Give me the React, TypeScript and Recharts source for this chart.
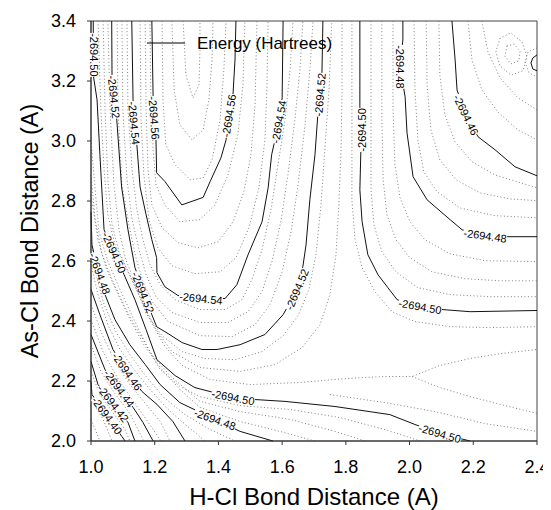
import React from "react";
import { ComposedChart, Line, Scatter, XAxis, YAxis, ReferenceArea, Legend, Label } from "recharts";

const FONT = "'Liberation Sans', Arial, Helvetica, sans-serif";

const xTicks = [1.0, 1.2, 1.4, 1.6, 1.8, 2.0, 2.2, 2.4];
const yTicks = [2.0, 2.2, 2.4, 2.6, 2.8, 3.0, 3.2, 3.4];

// solid (labelled) contours, [H-Cl, As-Cl]
const c40 = [[1.0, 2.198], [1.003, 2.155], [1.05, 2.085], [1.097, 2.015], [1.107, 2.0]];
const c42 = [[1.0, 2.265], [1.022, 2.188], [1.069, 2.125], [1.116, 2.062], [1.138, 2.0]];
const c44 = [[1.0, 2.355], [1.044, 2.238], [1.088, 2.175], [1.132, 2.112], [1.163, 2.062], [1.195, 2.0]];
const c46low = [[1.0, 2.505], [1.028, 2.421], [1.069, 2.305], [1.113, 2.232], [1.16, 2.165], [1.207, 2.122], [1.257, 2.065], [1.295, 2.0]];
const c48low = [[1.0, 2.764], [1.003, 2.654], [1.025, 2.554], [1.044, 2.488], [1.075, 2.405], [1.122, 2.321], [1.17, 2.255], [1.217, 2.188], [1.279, 2.128], [1.389, 2.072], [1.468, 2.032], [1.571, 2.0]];
const c50low = [[1.007, 3.4], [1.008, 3.214], [1.019, 3.137], [1.028, 2.954], [1.041, 2.704], [1.104, 2.554], [1.138, 2.471], [1.173, 2.371], [1.207, 2.271], [1.264, 2.218], [1.326, 2.178], [1.446, 2.145], [1.518, 2.138], [1.609, 2.132], [1.766, 2.115], [1.938, 2.088], [2.017, 2.055], [2.095, 2.025], [2.19, 2.0]];
const c50mid = [[1.844, 3.4], [1.844, 3.11], [1.851, 3.037], [1.847, 2.964], [1.844, 2.837], [1.851, 2.731], [1.869, 2.621], [1.901, 2.554], [1.932, 2.511], [1.961, 2.471], [2.033, 2.448], [2.105, 2.438], [2.19, 2.431], [2.4, 2.435]];
const c52 = [[1.065, 3.4], [1.066, 3.214], [1.081, 3.07], [1.096, 2.847], [1.116, 2.704], [1.138, 2.578], [1.191, 2.421], [1.206, 2.381], [1.242, 2.358], [1.286, 2.328], [1.348, 2.305], [1.396, 2.305], [1.468, 2.321], [1.546, 2.355], [1.603, 2.421], [1.647, 2.505], [1.665, 2.581], [1.675, 2.654], [1.687, 2.804], [1.703, 2.954], [1.712, 3.087], [1.719, 3.154], [1.725, 3.23], [1.728, 3.4]];
const c54 = [[1.128, 3.4], [1.132, 3.137], [1.144, 2.987], [1.154, 2.847], [1.173, 2.754], [1.191, 2.671], [1.206, 2.611], [1.207, 2.561], [1.232, 2.514], [1.273, 2.485], [1.345, 2.475], [1.421, 2.475], [1.458, 2.521], [1.493, 2.621], [1.537, 2.731], [1.556, 2.844], [1.567, 2.954], [1.59, 3.064], [1.6, 3.144], [1.603, 3.4]];
const c56 = [[1.191, 3.4], [1.195, 3.147], [1.204, 3.004], [1.206, 2.894], [1.232, 2.865], [1.285, 2.787], [1.352, 2.812], [1.374, 2.865], [1.408, 2.944], [1.424, 3.004], [1.446, 3.16], [1.452, 3.27], [1.455, 3.4]];
const c48top = [[1.979, 3.4], [1.979, 3.337], [1.97, 3.247], [1.986, 3.147], [1.992, 3.027], [2.011, 2.881], [2.055, 2.804], [2.127, 2.738], [2.165, 2.704], [2.237, 2.684], [2.309, 2.681], [2.4, 2.681]];
const c46top = [[2.133, 3.4], [2.143, 3.27], [2.149, 3.17], [2.177, 3.087], [2.215, 3.014], [2.268, 2.971], [2.331, 2.914], [2.4, 2.884]];
const c44corner = [[2.4, 3.287], [2.387, 3.277], [2.381, 3.26], [2.387, 3.24], [2.4, 3.234]];

// dotted (intermediate) contours
const v1 = [[1.223, 3.4], [1.226, 3.137], [1.235, 2.987], [1.264, 2.921], [1.311, 2.871], [1.352, 2.877], [1.38, 2.937], [1.405, 3.07], [1.417, 3.237], [1.424, 3.4]];
const v2 = [[1.254, 3.4], [1.261, 3.17], [1.279, 3.054], [1.317, 3.004], [1.352, 3.037], [1.37, 3.137], [1.38, 3.27], [1.383, 3.4]];
const v3 = [[1.289, 3.4], [1.298, 3.22], [1.32, 3.144], [1.339, 3.187], [1.342, 3.303], [1.342, 3.4]];
const s1 = [[1.185, 3.4], [1.188, 3.137], [1.195, 2.971], [1.204, 2.854], [1.232, 2.787], [1.279, 2.731], [1.342, 2.738], [1.389, 2.787], [1.43, 2.887], [1.461, 3.021], [1.477, 3.187], [1.483, 3.4]];
const s2 = [[1.17, 3.4], [1.173, 3.104], [1.179, 2.904], [1.191, 2.787], [1.223, 2.711], [1.273, 2.661], [1.336, 2.644], [1.399, 2.664], [1.446, 2.731], [1.48, 2.831], [1.502, 2.954], [1.515, 3.12], [1.521, 3.4]];
const s3 = [[1.154, 3.4], [1.157, 3.07], [1.166, 2.887], [1.182, 2.738], [1.21, 2.644], [1.254, 2.584], [1.326, 2.558], [1.405, 2.564], [1.455, 2.611], [1.496, 2.711], [1.527, 2.844], [1.546, 3.004], [1.552, 3.17], [1.556, 3.4]];
const t1 = [[1.113, 3.4], [1.116, 3.104], [1.129, 2.904], [1.144, 2.771], [1.163, 2.671], [1.185, 2.588], [1.217, 2.521], [1.264, 2.471], [1.342, 2.438], [1.421, 2.438], [1.474, 2.471], [1.505, 2.538], [1.537, 2.638], [1.565, 2.771], [1.587, 2.921], [1.609, 3.07], [1.625, 3.237], [1.634, 3.4]];
const t2 = [[1.097, 3.4], [1.1, 3.104], [1.113, 2.871], [1.129, 2.738], [1.151, 2.638], [1.173, 2.554], [1.204, 2.481], [1.254, 2.428], [1.342, 2.395], [1.43, 2.395], [1.493, 2.431], [1.537, 2.498], [1.568, 2.598], [1.596, 2.731], [1.618, 2.887], [1.64, 3.07], [1.656, 3.237], [1.665, 3.4]];
const t3 = [[1.082, 3.4], [1.085, 3.104], [1.097, 2.854], [1.119, 2.721], [1.141, 2.611], [1.163, 2.531], [1.195, 2.461], [1.242, 2.398], [1.342, 2.351], [1.443, 2.348], [1.515, 2.388], [1.562, 2.455], [1.6, 2.564], [1.628, 2.698], [1.65, 2.854], [1.672, 3.054], [1.687, 3.237], [1.697, 3.4]];
const w1 = [[1.053, 3.4], [1.06, 3.104], [1.072, 2.854], [1.088, 2.704], [1.107, 2.611], [1.141, 2.518], [1.173, 2.425], [1.223, 2.351], [1.286, 2.298], [1.358, 2.275], [1.452, 2.271], [1.537, 2.298], [1.603, 2.351], [1.65, 2.418], [1.684, 2.505], [1.706, 2.621], [1.722, 2.787], [1.734, 2.971], [1.747, 3.17], [1.756, 3.4]];
const w2 = [[1.038, 3.4], [1.044, 3.104], [1.053, 2.871], [1.066, 2.721], [1.088, 2.631], [1.126, 2.544], [1.163, 2.461], [1.204, 2.371], [1.254, 2.298], [1.342, 2.245], [1.468, 2.232], [1.578, 2.255], [1.662, 2.311], [1.719, 2.388], [1.75, 2.488], [1.769, 2.621], [1.778, 2.787], [1.785, 2.971], [1.788, 3.17], [1.788, 3.4]];
const w3 = [[1.022, 3.4], [1.031, 3.104], [1.041, 2.904], [1.053, 2.754], [1.075, 2.654], [1.113, 2.571], [1.151, 2.485], [1.188, 2.398], [1.232, 2.315], [1.286, 2.252], [1.374, 2.205], [1.499, 2.188], [1.656, 2.195], [1.797, 2.208], [1.923, 2.215], [2.008, 2.215], [2.095, 2.252], [2.19, 2.275], [2.284, 2.291], [2.4, 2.305]];
const g1 = [[2.008, 2.215], [2.095, 2.178], [2.19, 2.148], [2.284, 2.122], [2.4, 2.092]];
const r1 = [[1.819, 3.4], [1.819, 3.07], [1.819, 2.804], [1.829, 2.671], [1.851, 2.578], [1.891, 2.498], [1.945, 2.431], [2.017, 2.398], [2.127, 2.381], [2.252, 2.378], [2.4, 2.381]];
const z1 = [[1.75, 2.155], [1.923, 2.128], [2.08, 2.098], [2.237, 2.058], [2.4, 2.032]];
const x1 = [[1.0, 3.004], [1.013, 2.837], [1.025, 2.698], [1.053, 2.598], [1.091, 2.505], [1.132, 2.411], [1.173, 2.321], [1.217, 2.238], [1.279, 2.182], [1.342, 2.148], [1.468, 2.118], [1.625, 2.105], [1.782, 2.078], [1.923, 2.038], [2.033, 2.0]];
const x2 = [[1.0, 2.887], [1.013, 2.738], [1.035, 2.621], [1.066, 2.538], [1.107, 2.445], [1.148, 2.365], [1.191, 2.288], [1.248, 2.218], [1.342, 2.132], [1.468, 2.098], [1.625, 2.072], [1.766, 2.032], [1.86, 2.0]];
const x3 = [[1.0, 2.821], [1.022, 2.671], [1.047, 2.578], [1.085, 2.488], [1.126, 2.398], [1.166, 2.321], [1.217, 2.245], [1.279, 2.172], [1.342, 2.112], [1.468, 2.065], [1.593, 2.032], [1.703, 2.0]];
const x4 = [[1.0, 2.671], [1.016, 2.554], [1.041, 2.455], [1.078, 2.365], [1.122, 2.288], [1.173, 2.215], [1.229, 2.145], [1.295, 2.088], [1.374, 2.038], [1.452, 2.0]];
const x5 = [[1.0, 2.588], [1.022, 2.488], [1.053, 2.388], [1.091, 2.305], [1.135, 2.238], [1.185, 2.172], [1.242, 2.105], [1.304, 2.048], [1.358, 2.0]];
const x6 = [[1.0, 2.455], [1.035, 2.355], [1.075, 2.265], [1.122, 2.188], [1.173, 2.122], [1.217, 2.065], [1.248, 2.0]];
const x7 = [[1.0, 2.405], [1.038, 2.298], [1.082, 2.212], [1.129, 2.138], [1.173, 2.072], [1.22, 2.0]];
const x8 = [[1.0, 2.321], [1.031, 2.232], [1.075, 2.158], [1.122, 2.092], [1.166, 2.0]];
const x9 = [[1.0, 2.232], [1.028, 2.155], [1.069, 2.095], [1.107, 2.038], [1.122, 2.0]];
const x10 = [[1.0, 2.138], [1.038, 2.072], [1.066, 2.0]];
const x11 = [[1.0, 2.072], [1.028, 2.0]];
const y1 = [[1.879, 3.4], [1.879, 3.07], [1.879, 2.837], [1.888, 2.721], [1.913, 2.631], [1.957, 2.564], [2.026, 2.511], [2.127, 2.488], [2.252, 2.481], [2.4, 2.481]];
const y2 = [[1.913, 3.4], [1.913, 3.07], [1.917, 2.871], [1.929, 2.754], [1.957, 2.671], [2.001, 2.611], [2.07, 2.564], [2.174, 2.541], [2.284, 2.534], [2.4, 2.534]];
const y3 = [[1.948, 3.4], [1.948, 3.104], [1.954, 2.921], [1.97, 2.811], [2.001, 2.731], [2.048, 2.671], [2.127, 2.624], [2.237, 2.601], [2.4, 2.598]];
const y4 = [[2.014, 3.4], [2.017, 3.17], [2.026, 3.004], [2.045, 2.897], [2.086, 2.831], [2.158, 2.777], [2.268, 2.751], [2.4, 2.744]];
const y5 = [[2.052, 3.4], [2.055, 3.187], [2.067, 3.037], [2.095, 2.937], [2.146, 2.871], [2.221, 2.827], [2.315, 2.807], [2.4, 2.801]];
const y6 = [[2.092, 3.4], [2.095, 3.22], [2.111, 3.087], [2.143, 2.997], [2.196, 2.931], [2.268, 2.887], [2.347, 2.861], [2.4, 2.844]];
const y7 = [[2.183, 3.4], [2.196, 3.27], [2.227, 3.17], [2.277, 3.097], [2.34, 3.037], [2.4, 3.004]];
const y8 = [[2.227, 3.4], [2.246, 3.297], [2.284, 3.21], [2.34, 3.144], [2.4, 3.104]];
const loop1 = [[2.284, 3.343], [2.271, 3.297], [2.284, 3.25], [2.318, 3.22], [2.356, 3.234], [2.369, 3.28], [2.353, 3.33], [2.318, 3.36], [2.284, 3.343]];
const loop2 = [[2.306, 3.317], [2.299, 3.283], [2.318, 3.257], [2.343, 3.267], [2.347, 3.3], [2.328, 3.323], [2.306, 3.317]];
const arcCorner = [[2.4, 3.31], [2.372, 3.297], [2.362, 3.264], [2.375, 3.227], [2.4, 3.214]];

const contourLabels = [
  { text: "-2694.50", x: 1.008, y: 3.287, angle: 90 },
  { text: "-2694.52", x: 1.072, y: 3.147, angle: 84 },
  { text: "-2694.54", x: 1.135, y: 3.06, angle: 85 },
  { text: "-2694.56", x: 1.198, y: 3.077, angle: 86 },
  { text: "-2694.56", x: 1.433, y: 3.084, angle: -81 },
  { text: "-2694.54", x: 1.59, y: 3.064, angle: -80 },
  { text: "-2694.52", x: 1.719, y: 3.154, angle: -85 },
  { text: "-2694.50", x: 1.851, y: 3.037, angle: -90 },
  { text: "-2694.48", x: 1.97, y: 3.247, angle: 90 },
  { text: "-2694.46", x: 2.177, y: 3.087, angle: 64 },
  { text: "-2694.48", x: 2.237, y: 2.684, angle: 8 },
  { text: "-2694.50", x: 2.033, y: 2.448, angle: 10 },
  { text: "-2694.54", x: 1.345, y: 2.475, angle: 6 },
  { text: "-2694.52", x: 1.647, y: 2.505, angle: -67 },
  { text: "-2694.52", x: 1.163, y: 2.495, angle: 68 },
  { text: "-2694.50", x: 1.072, y: 2.628, angle: 66 },
  { text: "-2694.48", x: 1.027, y: 2.558, angle: 70 },
  { text: "-2694.46", x: 1.113, y: 2.232, angle: 55 },
  { text: "-2694.44", x: 1.088, y: 2.175, angle: 54 },
  { text: "-2694.42", x: 1.069, y: 2.125, angle: 52 },
  { text: "-2694.40", x: 1.05, y: 2.085, angle: 54 },
  { text: "-2694.50", x: 1.446, y: 2.145, angle: 11 },
  { text: "-2694.48", x: 1.389, y: 2.072, angle: 20 },
  { text: "-2694.50", x: 2.095, y: 2.025, angle: 16 },
];

const solidContours = [c40, c42, c44, c46low, c48low, c50low, c50mid, c52, c54, c56, c48top, c46top, c44corner];
const dottedContours = [v1, v2, v3, s1, s2, s3, t1, t2, t3, w1, w2, w3, g1, r1, z1, x1, x2, x3, x4, x5, x6, x7, x8, x9, x10, x11, y1, y2, y3, y4, y5, y6, y7, y8, loop1, loop2, arcCorner];

const toPoints = (c: number[][]) => c.map(([x, y]) => ({ x, y }));

function ContourLabel(props: any) {
  const { cx, cy, payload } = props;
  if (cx == null || cy == null) return null;
  return (
    <g transform={`translate(${cx},${cy}) rotate(${payload.angle})`}>
      <rect x={-22} y={-4} width={44} height={8} fill="#fff" />
      <text x={0} y={0} dy="0.36em" textAnchor="middle" fontSize={11} fontFamily={FONT} fill="#000">
        {payload.text}
      </text>
    </g>
  );
}

const EnergyLegend = () => (
  <svg width={220} height={22} style={{ display: "block" }}>
    <line x1={0} y1={10} x2={38} y2={10} stroke="#000" strokeWidth={1} />
    <text x={50} y={16} fontSize={17} fontFamily={FONT} fill="#000">
      Energy (Hartrees)
    </text>
  </svg>
);

export default function App() {
  return (
    <div style={{ width: 543, height: 502 }}>
      <style>{`html, body { overflow: hidden; }`}</style>
      <ComposedChart width={543} height={502} margin={{ top: 13, right: 14, bottom: 0, left: 0 }}>
        <XAxis
          dataKey="x"
          type="number"
          domain={[1, 2.4]}
          ticks={xTicks}
          tickFormatter={(v: number) => v.toFixed(1)}
          height={69}
          tickSize={4}
          tickMargin={15}
          interval={0}
          axisLine={{ stroke: "#333" }}
          tickLine={{ stroke: "#333" }}
          tick={{ fill: "#000", fontSize: 18, fontFamily: FONT }}
        >
          <Label
            content={({ viewBox }: any) => (
              <text x={viewBox.x + viewBox.width / 2} y={viewBox.y + 64} textAnchor="middle" fontSize={24} fontFamily={FONT} fill="#000">
                H-Cl Bond Distance (A)
              </text>
            )}
          />
        </XAxis>
        <YAxis
          dataKey="y"
          type="number"
          domain={[2, 3.4]}
          ticks={yTicks}
          tickFormatter={(v: number) => v.toFixed(1)}
          width={83}
          tickSize={4}
          tickMargin={11}
          interval={0}
          axisLine={{ stroke: "#333" }}
          tickLine={{ stroke: "#333" }}
          tick={{ fill: "#000", fontSize: 18, fontFamily: FONT }}
        >
          <Label
            content={({ viewBox }: any) => {
              const cy = viewBox.y + viewBox.height / 2;
              return (
                <text x={30} y={cy} transform={`rotate(-90, 30, ${cy})`} textAnchor="middle" fontSize={23.5} fontFamily={FONT} fill="#000">
                  As-Cl Bond Distance (A)
                </text>
              );
            }}
          />
        </YAxis>
        {dottedContours.map((c, i) => (
          <Line
            key={`d${i}`}
            data={toPoints(c)}
            dataKey="y"
            type="linear"
            stroke="#707070"
            strokeWidth={0.9}
            strokeDasharray="1 2.4"
            dot={false}
            activeDot={false}
            legendType="none"
            isAnimationActive={false}
          />
        ))}
        {solidContours.map((c, i) => (
          <Line
            key={`s${i}`}
            data={toPoints(c)}
            dataKey="y"
            type="linear"
            stroke="#111"
            strokeWidth={1}
            dot={false}
            activeDot={false}
            legendType="none"
            isAnimationActive={false}
          />
        ))}
        <Scatter data={contourLabels} dataKey="y" shape={ContourLabel} legendType="none" isAnimationActive={false} />
        <ReferenceArea x1={1} x2={2.4} y1={2} y2={3.4} fill="none" stroke="#444" strokeWidth={1} />
        <Legend
          layout="horizontal"
          align="center"
          verticalAlign="middle"
          wrapperStyle={{ left: 139, top: 25, width: 220, height: 22 }}
          content={EnergyLegend}
        />
      </ComposedChart>
    </div>
  );
}
